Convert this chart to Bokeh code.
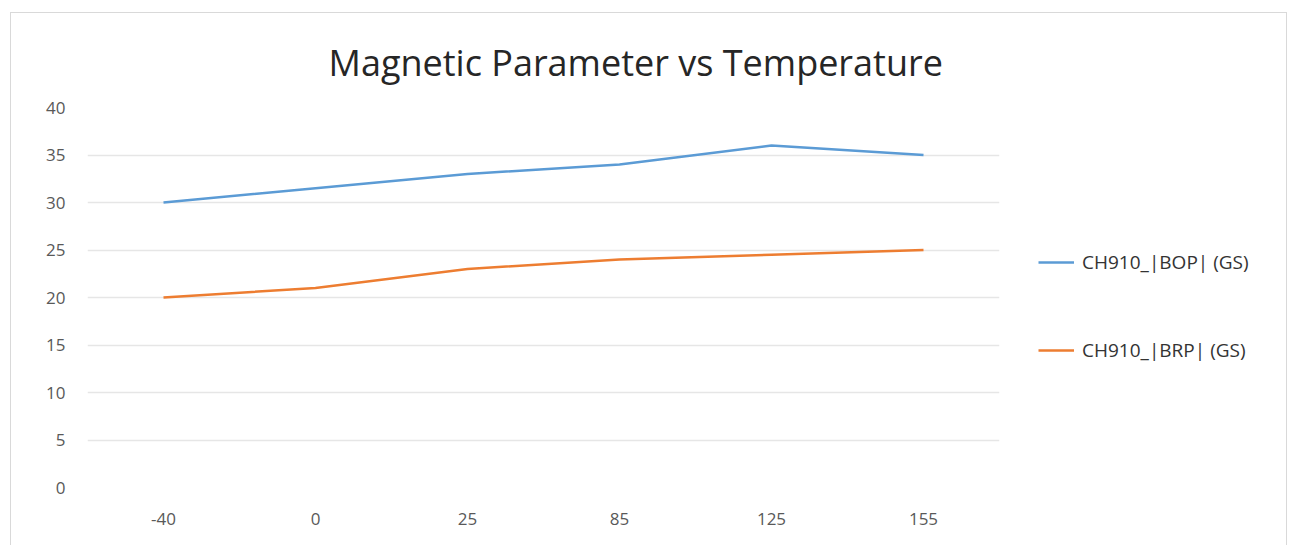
from bokeh.plotting import figure
from bokeh.layouts import row
from bokeh.models import FactorRange, Range1d, Legend, LegendItem, Title, FixedTicker
from bokeh.embed import file_html
from bokeh.resources import INLINE

temps = ["-40", "0", "25", "85", "125", "155"]
bop = [30, 31.5, 33, 34, 36, 35]
brp = [20, 21, 23, 24, 24.5, 25]
y_ticks = [0, 5, 10, 15, 20, 25, 30, 35, 40]
title_text = "Magnetic Parameter vs Temperature"
names = ["CH910_|BOP| (GS)", "CH910_|BRP| (GS)"]
colors = ["#5B9BD5", "#ED7D31"]

FONT = "Open Sans"

# main chart
p = figure(width=998, height=532, x_range=FactorRange(*temps, range_padding=0),
           y_range=Range1d(0, 40), output_backend="svg", toolbar_location=None,
           min_border_left=76, min_border_right=10, min_border_top=94, min_border_bottom=58,
           title=None)
p.outline_line_color = None
p.background_fill_color = "white"

p.line(temps, bop, line_color=colors[0], line_width=2.5)
p.line(temps, brp, line_color=colors[1], line_width=2.5)

p.yaxis.ticker = FixedTicker(ticks=y_ticks)
for ax in (p.xaxis[0], p.yaxis[0]):
    ax.axis_line_color = None
    ax.major_tick_line_color = None
    ax.minor_tick_line_color = None
    ax.major_label_text_font = FONT
    ax.major_label_text_font_size = "17px"
    ax.major_label_text_color = "#595959"
p.yaxis.major_label_standoff = 16
p.xaxis.major_label_standoff = 19
p.xgrid.grid_line_color = None
p.ygrid.grid_line_color = "#e6e6e6"
p.ygrid.grid_line_width = 1.5

title = Title(text=title_text, align="left", offset=241, standoff=42,
              text_font=FONT, text_font_size="36px", text_font_style="normal",
              text_color="#262626")
p.add_layout(title, "above")

# legend panel: same series drawn outside its visible range, only the legend shows
lg = figure(width=277, height=532, x_range=FactorRange(*temps, range_padding=0),
            y_range=Range1d(100, 200),
            x_axis_type=None, y_axis_type=None, output_backend="svg", toolbar_location=None,
            min_border=0, title=None)
lg.outline_line_color = None
lg.grid.visible = False
l1 = lg.line(temps, bop, line_color=colors[0], line_width=2.5)
l2 = lg.line(temps, brp, line_color=colors[1], line_width=2.5)
legend = Legend(items=[LegendItem(label=names[0], renderers=[l1]),
                       LegendItem(label=names[1], renderers=[l2])],
                location=(29, 124), margin=0, padding=0, spacing=62,
                label_height=20, glyph_height=20, glyph_width=36, label_standoff=8,
                label_text_font=FONT, label_text_font_size="19px", label_text_color="#333333",
                border_line_color=None, background_fill_alpha=0)
lg.add_layout(legend, "center")

lay = row(p, lg)
lay.spacing = 0
lay.margin = (12, 0, 0, 10)
lay.styles = {"border": "1px solid #d9d9d9", "border-bottom": "none"}

open("out.html", "w").write(file_html(lay, INLINE))
